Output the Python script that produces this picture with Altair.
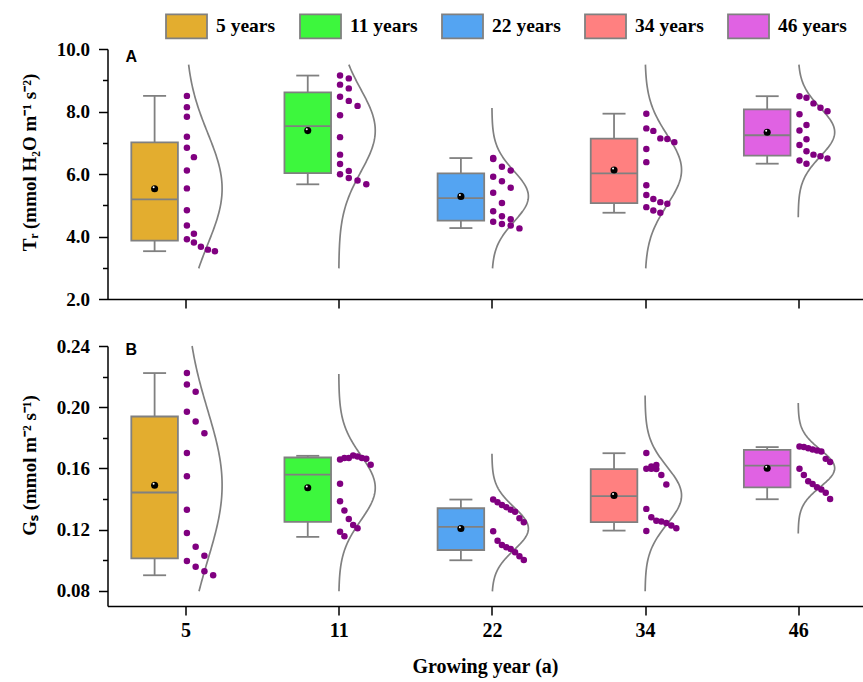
import altair as alt
import numpy as np
import pandas as pd

# ---------------- data ----------------
years = ["5", "11", "22", "34", "46"]
legend_labels = ["5 years", "11 years", "22 years", "34 years", "46 years"]
box_colors = ["#E3AD2F", "#3DF73D", "#54A4F2", "#FF8080", "#E062E3"]

# Panel A: transpiration rate Tr (points in data order)
tr_5 = [8.50, 8.14, 7.83, 7.19, 6.84, 6.54, 6.11, 5.54, 4.84, 4.35, 4.09, 3.91, 3.81, 3.67, 3.58, 3.53]
tr_11 = [9.15, 9.06, 8.86, 8.74, 8.47, 8.34, 8.18, 7.88, 7.18, 6.62, 6.32, 6.10, 5.99, 5.87, 5.79, 5.67]
tr_22 = [6.51, 6.48, 6.23, 6.11, 5.91, 5.77, 5.56, 5.40, 5.07, 4.81, 4.65, 4.55, 4.47, 4.40, 4.35, 4.26]
tr_34 = [7.93, 7.46, 7.38, 7.14, 7.12, 7.02, 6.80, 6.38, 5.64, 5.33, 5.20, 5.10, 5.05, 4.94, 4.83, 4.76]
tr_46 = [8.49, 8.44, 8.26, 8.12, 8.01, 7.91, 7.57, 7.39, 7.11, 6.93, 6.73, 6.62, 6.57, 6.50, 6.43, 6.33]
tr_q1 = [3.87, 6.03, 4.51, 5.07, 6.59]
tr_med = [5.19, 7.53, 5.23, 6.02, 7.24]
tr_q3 = [7.01, 8.61, 6.02, 7.13, 8.07]
tr_lo = [3.53, 5.67, 4.27, 4.76, 6.33]
tr_hi = [8.50, 9.15, 6.51, 7.93, 8.49]

# Panel B: stomatal conductance Gs
gs_5 = [0.2223, 0.2149, 0.2101, 0.1970, 0.1906, 0.1830, 0.1701, 0.1548, 0.1330, 0.1178, 0.1088, 0.1029, 0.0994, 0.0957, 0.0927, 0.0901]
gs_11 = [0.1658, 0.1667, 0.1668, 0.1684, 0.1678, 0.1667, 0.1663, 0.1623, 0.1499, 0.1385, 0.1324, 0.1269, 0.1230, 0.1208, 0.1186, 0.1156]
gs_22 = [0.1396, 0.1379, 0.1361, 0.1346, 0.1330, 0.1317, 0.1274, 0.1248, 0.1189, 0.1127, 0.1099, 0.1084, 0.1073, 0.1051, 0.1025, 0.1001]
gs_34 = [0.1701, 0.1612, 0.1622, 0.1597, 0.1598, 0.1595, 0.1557, 0.1494, 0.1335, 0.1280, 0.1258, 0.1252, 0.1243, 0.1226, 0.1209, 0.1191]
gs_46 = [0.1743, 0.1739, 0.1732, 0.1723, 0.1717, 0.1710, 0.1662, 0.1641, 0.1597, 0.1557, 0.1516, 0.1498, 0.1477, 0.1461, 0.1440, 0.1400]
gs_q1 = [0.1012, 0.1250, 0.1066, 0.1248, 0.1475]
gs_med = [0.1442, 0.1559, 0.1217, 0.1418, 0.1618]
gs_q3 = [0.1939, 0.1671, 0.1339, 0.1595, 0.1721]
gs_lo = [0.0901, 0.1152, 0.0999, 0.1193, 0.1398]
gs_hi = [0.2223, 0.1682, 0.1396, 0.1699, 0.1739]

# ---------------- layout constants ----------------
WIDTH = 755
H_A = 250
H_B = 260
X_DOMAIN = [-0.51, 4.42]
PX = WIDTH / (X_DOMAIN[1] - X_DOMAIN[0])
BOX_SHIFT = -31
BOX_HALF = 23.3
CAP_HALF = 11.5
DOT_START = 1.3
DOT_SPAN = 35.0
CURVE_W = 36.5
GRAY = "#808080"
PURPLE = "#800080"
SERIF = "Liberation Serif"
TITLE_X = -78
TITLE_FS = 19
SW = 1.8


def build(groups, q1, med, q3, lo, hi, bin_w, clip):
    box_rows, pt_rows, cv_rows = [], [], []
    for i, vals in enumerate(groups):
        arr = np.array(vals, dtype=float)
        bins = np.floor(arr / bin_w + 1e-9).astype(int)
        counts, cols = {}, []
        for b in bins:
            c = counts.get(b, 0)
            cols.append(c)
            counts[b] = c + 1
        step = DOT_SPAN / max(counts.values())
        for v, c in zip(vals, cols):
            pt_rows.append({"idx": i, "v": v, "x": i + (DOT_START + c * step) / PX})
        m = arr.mean()
        s = arr.std(ddof=1)
        a = max(clip[0], m - 3.5 * s)
        b = min(clip[1], m + 3.5 * s)
        for k, v in enumerate(np.linspace(a, b, 160)):
            cv_rows.append({"idx": i, "k": k, "v": v,
                            "x": i + CURVE_W / PX * np.exp(-(v - m) ** 2 / (2 * s * s))})
        box_rows.append({"idx": i, "year": legend_labels[i], "q1": q1[i], "med": med[i],
                         "q3": q3[i], "lo": lo[i], "hi": hi[i], "mean": m})
    return pd.DataFrame(box_rows), pd.DataFrame(pt_rows), pd.DataFrame(cv_rows)


legend = alt.Legend(
    orient="none", legendX=57.5, legendY=-44.5, direction="horizontal", columns=5, title=None,
    symbolType="M-1,-0.585L1,-0.585L1,0.585L-1,0.585Z", symbolSize=1681,
    symbolStrokeColor=GRAY, symbolStrokeWidth=SW, symbolOpacity=1,
    labelFont=SERIF, labelFontWeight="bold", labelFontSize=19.5, labelColor="black",
    labelOffset=8, columnPadding=20, padding=0,
)


def panel(box_df, pt_df, cv_df, ydomain, height, yaxis, xaxis, letter, letter_y):
    xs = alt.Scale(domain=X_DOMAIN, nice=False, zero=False)
    ys = alt.Scale(domain=ydomain, nice=False, zero=False)
    Xi = alt.X("idx:Q", scale=xs, axis=xaxis)
    Xx = alt.X("x:Q", scale=xs, axis=xaxis)

    def Y(f):
        return alt.Y(f + ":Q", scale=ys, axis=yaxis)

    bb = alt.Chart(box_df)
    whisk_hi = bb.mark_rule(color=GRAY, strokeWidth=SW, xOffset=BOX_SHIFT).encode(
        x=Xi, y=Y("q3"), y2="hi")
    whisk_lo = bb.mark_rule(color=GRAY, strokeWidth=SW, xOffset=BOX_SHIFT).encode(
        x=Xi, y=Y("lo"), y2="q1")
    cap_hi = bb.mark_rule(color=GRAY, strokeWidth=SW, xOffset=BOX_SHIFT - CAP_HALF,
                          x2Offset=BOX_SHIFT + CAP_HALF).encode(x=Xi, x2="idx", y=Y("hi"))
    cap_lo = bb.mark_rule(color=GRAY, strokeWidth=SW, xOffset=BOX_SHIFT - CAP_HALF,
                          x2Offset=BOX_SHIFT + CAP_HALF).encode(x=Xi, x2="idx", y=Y("lo"))
    box = bb.mark_rect(stroke=GRAY, strokeWidth=SW, opacity=1,
                       xOffset=BOX_SHIFT - BOX_HALF, x2Offset=BOX_SHIFT + BOX_HALF).encode(
        x=Xi, x2="idx", y=Y("q1"), y2="q3",
        fill=alt.Fill("year:N", scale=alt.Scale(domain=legend_labels, range=box_colors), legend=legend))
    median = bb.mark_rule(color=GRAY, strokeWidth=SW, xOffset=BOX_SHIFT - BOX_HALF,
                          x2Offset=BOX_SHIFT + BOX_HALF).encode(x=Xi, x2="idx", y=Y("med"))
    mean = bb.mark_circle(color="black", size=50, opacity=1, xOffset=BOX_SHIFT).encode(
        x=Xi, y=Y("mean"))
    shine = bb.mark_circle(color="white", size=4, opacity=1, xOffset=BOX_SHIFT - 1,
                           yOffset=-1.4).encode(x=Xi, y=Y("mean"))
    dots = alt.Chart(pt_df).mark_circle(color=PURPLE, size=42, opacity=1).encode(
        x=Xx, y=Y("v"))
    curve = alt.Chart(cv_df).mark_line(color=GRAY, strokeWidth=1.7).encode(
        x=Xx, y=Y("v"), detail="idx:N", order="k:Q")
    lab = alt.Chart(pd.DataFrame({"t": [letter]})).mark_text(
        font="Liberation Sans", fontWeight="bold", fontSize=16, align="left",
        baseline="alphabetic", color="black").encode(
        x=alt.value(18), y=alt.value(letter_y), text="t:N")
    return alt.layer(whisk_hi, whisk_lo, cap_hi, cap_lo, box, median, curve, dots,
                     mean, shine, lab).properties(width=WIDTH, height=height)


boxA, ptA, cvA = build([tr_5, tr_11, tr_22, tr_34, tr_46], tr_q1, tr_med, tr_q3, tr_lo, tr_hi,
                       0.5, (2.98, 9.5))
boxB, ptB, cvB = build([gs_5, gs_11, gs_22, gs_34, gs_46], gs_q1, gs_med, gs_q3, gs_lo, gs_hi,
                       0.02, (0.0796, 0.24))

yaxisA = alt.Axis(
    values=[2, 3, 4, 5, 6, 7, 8, 9, 10],
    labelExpr="datum.value % 2 == 0 ? format(datum.value, '.1f') : ''",
    tickSize={"condition": {"test": "datum.value % 2 == 0", "value": 9}, "value": 5},
    labelPadding=9, title="Tᵣ (mmol H₂O m⁻¹ s⁻²)", titleX=TITLE_X, titleY=113,
    titleBaseline="middle", titleAlign="center", titleAngle=270)
yaxisB = alt.Axis(
    values=[0.08, 0.10, 0.12, 0.14, 0.16, 0.18, 0.20, 0.22, 0.24],
    labelExpr="round(datum.value * 100) % 4 == 0 ? format(datum.value, '.2f') : ''",
    tickSize={"condition": {"test": "round(datum.value * 100) % 4 == 0", "value": 9}, "value": 5},
    labelPadding=9, title="Gₛ (mmol m⁻² s⁻¹)", titleX=TITLE_X, titleY=119,
    titleBaseline="middle", titleAlign="center", titleAngle=270)

xaxisA = alt.Axis(values=[0, 1, 2, 3, 4], labels=False, tickSize=9, title=None)
label_js = "[" + ",".join("'%s'" % y for y in years) + "]"
xaxisB = alt.Axis(values=[0, 1, 2, 3, 4], labelExpr=label_js + "[datum.value]", tickSize=9,
                  labelPadding=5, labelFontSize=20, title="Growing year (a)", titleFontSize=20,
                  titleY=60, titleBaseline="middle")

pA = panel(boxA, ptA, cvA, [2, 10], H_A, yaxisA, xaxisA, "A", 13)
pB = panel(boxB, ptB, cvB, [0.07, 0.24], H_B, yaxisB, xaxisB, "B", 9)

chart = alt.vconcat(pA, pB, spacing=47, bounds="flush").properties(
    padding={"left": 108 + TITLE_X - TITLE_FS / 2, "top": 4, "right": 0, "bottom": 5},
).configure_view(stroke=None).configure_axis(
    labelFont=SERIF, labelFontWeight="bold", labelFontSize=19, labelColor="black",
    titleFont=SERIF, titleFontWeight="bold", titleFontSize=TITLE_FS, titleColor="black",
    domainColor="black", domainWidth=1.5, tickColor="black", tickWidth=1.5, grid=False,
)

chart.save("out.html", embed_options={"renderer": "svg", "actions": False})
